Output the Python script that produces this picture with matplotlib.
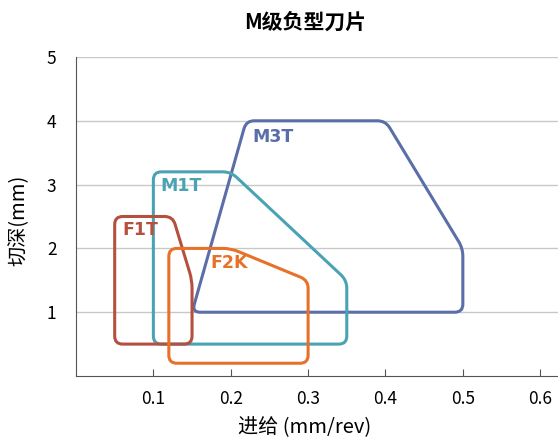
import numpy as np
import matplotlib
matplotlib.use('Agg')
import matplotlib.pyplot as plt
from matplotlib.path import Path
from matplotlib.patches import PathPatch

plt.rcParams['font.family'] = ['Noto Sans CJK SC', 'DejaVu Sans']

# 刀片区域 (进给 mm/rev, 切深 mm)
m3t_x = [0.15, 0.22, 0.40, 0.50, 0.50]
m3t_y = [1.0, 4.0, 4.0, 2.0, 1.0]
m1t_x = [0.10, 0.10, 0.20, 0.35, 0.35]
m1t_y = [0.5, 3.2, 3.2, 1.5, 0.5]
f1t_x = [0.05, 0.05, 0.125, 0.15, 0.15]
f1t_y = [0.5, 2.5, 2.5, 1.5, 0.5]
f2k_x = [0.12, 0.12, 0.20, 0.30, 0.30]
f2k_y = [0.2, 2.0, 2.0, 1.5, 0.2]

names = ['M3T', 'M1T', 'F1T', 'F2K']
colors = ['#5a6ea8', '#4aa3b4', '#b5503f', '#e8712a']
label_pos = [(0.228, 3.75), (0.109, 2.98), (0.060, 2.29), (0.174, 1.77)]

x_ticks = [0.1, 0.2, 0.3, 0.4, 0.5, 0.6]
y_ticks = [1, 2, 3, 4, 5]

fig = plt.figure(figsize=(5.58, 4.41), dpi=100)
ax = fig.add_axes([76 / 558, 65 / 441, 482 / 558, 319 / 441])
ax.set_xlim(0, 0.623)
ax.set_ylim(0, 5)


def rounded(xs, ys, r=8):
    # 在像素空间里做圆角，再换回数据坐标
    pts = ax.transData.transform(np.column_stack([xs, ys]))
    n = len(pts)
    verts, codes = [], []
    for i in range(n):
        p = pts[i]
        a = pts[i - 1]
        b = pts[(i + 1) % n]
        da = (a - p) / np.linalg.norm(a - p)
        db = (b - p) / np.linalg.norm(b - p)
        verts += [p + da * r, p, p + db * r]
        codes += [Path.MOVETO if i == 0 else Path.LINETO, Path.CURVE3, Path.CURVE3]
    verts.append(verts[0])
    codes.append(Path.LINETO)
    verts = ax.transData.inverted().transform(np.array(verts))
    return Path(verts, codes)


shapes = [(m3t_x, m3t_y), (m1t_x, m1t_y), (f1t_x, f1t_y), (f2k_x, f2k_y)]
for (xs, ys), c in zip(shapes, colors):
    ax.add_patch(PathPatch(rounded(xs, ys), facecolor='none', edgecolor=c,
                           lw=2.2, zorder=3))

for name, c, (lx, ly) in zip(names, colors, label_pos):
    ax.text(lx, ly, name, color=c, fontsize=12.5, fontweight='bold', va='center',
            family=['DejaVu Sans'], zorder=4)

ax.set_xticks(x_ticks)
ax.set_xticklabels([f'{v:.1f}' for v in x_ticks])
ax.set_yticks(y_ticks)
ax.grid(axis='y', color='#c8c8c8', lw=1)
ax.set_axisbelow(True)
for s in ['top', 'right']:
    ax.spines[s].set_visible(False)
ax.spines['left'].set_color('#555555')
ax.spines['bottom'].set_color('#555555')
ax.tick_params(axis='x', direction='in', length=5, color='#555555', labelsize=12.5, pad=10)
ax.tick_params(axis='y', length=0, labelsize=12.5, pad=14)

ax.set_xlabel('进给 (mm/rev)', fontsize=14.5, va='center')
ax.xaxis.set_label_coords((305 - 76) / 482, -(428 - 376) / 319)
ax.set_ylabel('切深(mm)', fontsize=14.5, va='center')
ax.yaxis.set_label_coords(-(76 - 19) / 482, (376 - 220) / 319)
fig.text(305 / 558, 1 - 22 / 441, 'M级负型刀片', fontsize=15, fontweight='bold',
         ha='center', va='center')

fig.savefig('out.png', dpi=100)
